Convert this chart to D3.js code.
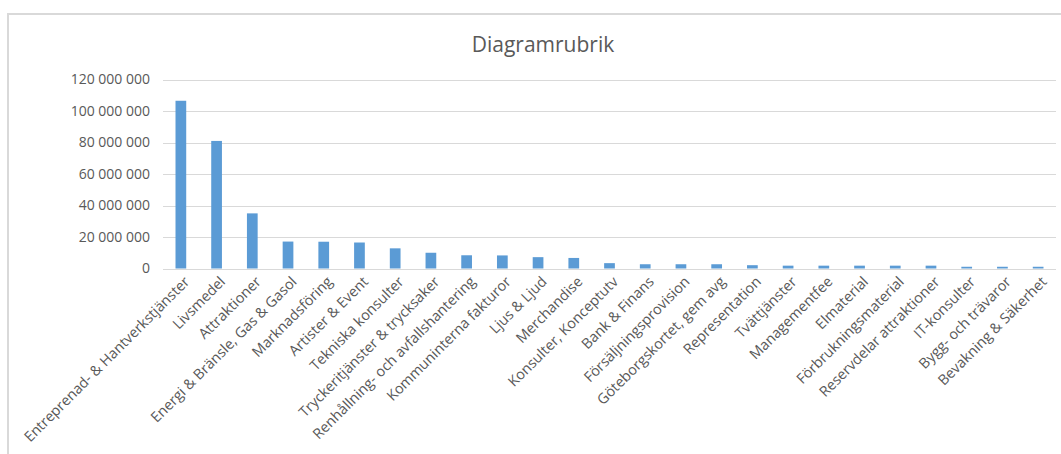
<!DOCTYPE html>
<html>
<head>
  <meta charset="utf-8">
  <script src="https://d3js.org/d3.v7.min.js"></script>
  <style>
    body { margin: 0; background: #fff; }
    svg { font-family: "Open Sans", sans-serif; display: block; }
    .y-label { font-size: 14px; fill: #595959; }
    .x-label { font-size: 14.4px; fill: #595959; }
    .title { font-size: 21px; fill: #595959; }
  </style>
</head>
<body>
  <svg width="1061" height="454"></svg>

  <script>
    // Categories and values (in SEK)
    const categories = [
      "Entreprenad- & Hantverkstjänster", "Livsmedel", "Attraktioner",
      "Energi & Bränsle, Gas & Gasol", "Marknadsföring", "Artister & Event",
      "Tekniska konsulter", "Tryckeritjänster & trycksaker",
      "Renhållning- och avfallshantering", "Kommuninterna fakturor",
      "Ljus & Ljud", "Merchandise", "Konsulter, Konceptutv", "Bank & Finans",
      "Försäljningsprovision", "Göteborgskortet, gem avg", "Representation",
      "Tvättjänster", "Managementfee", "Elmaterial", "Förbrukningsmaterial",
      "Reservdelar attraktioner", "IT-konsulter", "Bygg- och trävaror",
      "Bevakning & Säkerhet"
    ];
    const values = [
      106500000, 81000000, 35000000, 17100000, 17000000, 16500000,
      12800000, 10000000, 8400000, 8300000, 7200000, 6700000,
      3400000, 2700000, 2700000, 2700000, 2100000, 1800000,
      1800000, 1800000, 1800000, 1800000, 1100000, 1100000, 1100000
    ];
    const yTicks = [0, 20000000, 40000000, 60000000, 80000000, 100000000, 120000000];
    const title = "Diagramrubrik";

    const svg = d3.select("svg");

    // Chart frame (runs off the window on the right and bottom)
    svg.append("rect")
      .attr("x", 8).attr("y", 14)
      .attr("width", 1100).attr("height", 500)
      .attr("fill", "none")
      .attr("stroke", "#d9d9d9")
      .attr("stroke-width", 2);

    svg.append("text")
      .attr("class", "title")
      .attr("x", 543)
      .attr("y", 52)
      .attr("text-anchor", "middle")
      .text(title);

    const x = d3.scaleBand()
      .domain(categories)
      .range([163, 1056])
      .paddingInner(0.7)
      .paddingOuter(0.35);

    const y = d3.scaleLinear()
      .domain([0, 120000000])
      .range([268.5, 79.5]);

    const fmt = v => d3.format(",")(v).replace(/,/g, " ");

    // Gridlines
    svg.append("g")
      .selectAll("line")
      .data(yTicks)
      .join("line")
      .attr("x1", 163).attr("x2", 1056)
      .attr("y1", d => Math.round(y(d)) + 0.5)
      .attr("y2", d => Math.round(y(d)) + 0.5)
      .attr("stroke", "#d9d9d9")
      .attr("stroke-width", 1);

    // Y axis labels
    svg.append("g")
      .selectAll("text")
      .data(yTicks)
      .join("text")
      .attr("class", "y-label")
      .attr("x", 150)
      .attr("y", d => y(d))
      .attr("dy", "0.35em")
      .attr("text-anchor", "end")
      .text(fmt);

    // Bars
    svg.append("g")
      .selectAll("rect")
      .data(values)
      .join("rect")
      .attr("x", (d, i) => x(categories[i]))
      .attr("y", d => y(d))
      .attr("width", x.bandwidth())
      .attr("height", d => y(0) - y(d))
      .attr("fill", "#5b9bd5");

    // X axis labels, rotated
    svg.append("g")
      .selectAll("text")
      .data(categories)
      .join("text")
      .attr("class", "x-label")
      .attr("text-anchor", "end")
      .attr("transform", d => `translate(${x(d) + x.bandwidth() / 2 + 6},${279}) rotate(-45)`)
      .attr("dy", "0.35em")
      .text(d => d);
  </script>
</body>
</html>
